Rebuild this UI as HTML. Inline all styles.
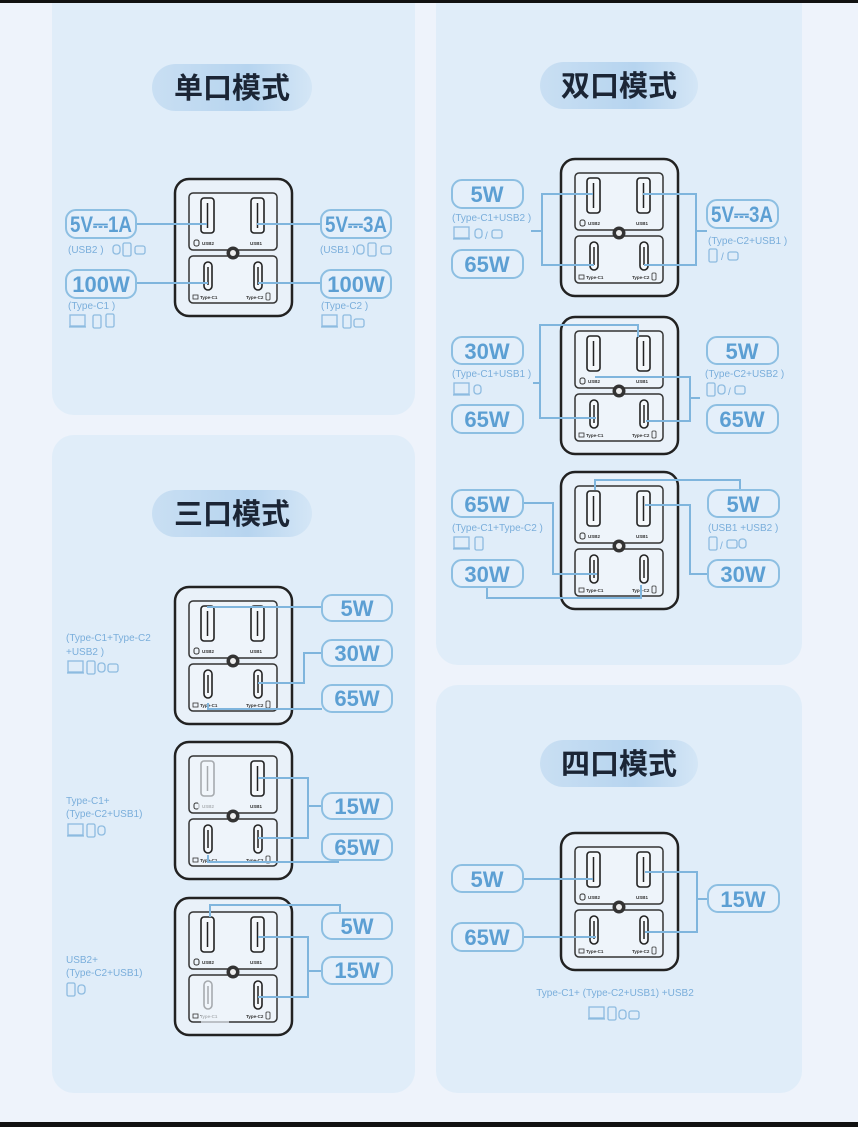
<!DOCTYPE html>
<html><head><meta charset="utf-8"><style>
html,body{margin:0;padding:0;background:#eef3fb;}
svg{display:block}
.lb{fill:#e4effa;stroke:#8dbfe2;stroke-width:2}
.lt{font-family:"Liberation Sans",sans-serif;font-weight:bold;font-size:22px;fill:#5c9fd3;text-anchor:middle}
.st{font-family:"Liberation Sans",sans-serif;font-size:10px;fill:#7aaedb}
.ln{fill:none;stroke:#7fb5dd;stroke-width:2}
.ic{fill:none;stroke:#8dbbe0;stroke-width:1.3}
.tt{font-family:"Liberation Sans","Noto Sans CJK SC",sans-serif;font-weight:bold;font-size:29px;fill:#1b2535;text-anchor:middle}
.pl{font-family:"Liberation Sans",sans-serif;font-size:4.5px;font-weight:bold;fill:#333}
</style></head><body>
<svg width="858" height="1127" viewBox="0 0 858 1127" xmlns="http://www.w3.org/2000/svg">
<defs>
<linearGradient id="tg" x1="0" x2="1" y1="0" y2="0"><stop offset="0" stop-color="#c9dff3"/><stop offset="0.6" stop-color="#b6d4ef"/><stop offset="1" stop-color="#d4e6f6"/></linearGradient>
<symbol id="dev" viewBox="0 0 120 140" width="120" height="140" overflow="visible">
<rect x="1" y="1" width="117" height="137" rx="14" fill="#e9f1f9" stroke="#222" stroke-width="2.5"/>
<rect x="15" y="15" width="88" height="57" rx="4" fill="#eef4fa" stroke="#333" stroke-width="1.5"/>
<rect x="15" y="78" width="88" height="47" rx="4" fill="#eef4fa" stroke="#333" stroke-width="1.5"/>
<rect x="27" y="20" width="13" height="35" rx="3" fill="#f5f8fb" stroke="#222" stroke-width="1.6"/>
<line x1="33.5" y1="25" x2="33.5" y2="50" stroke="#222" stroke-width="1.5"/>
<rect x="77" y="20" width="13" height="35" rx="3" fill="#f5f8fb" stroke="#222" stroke-width="1.6"/>
<line x1="83.5" y1="25" x2="83.5" y2="50" stroke="#222" stroke-width="1.5"/>
<rect x="30" y="84" width="8" height="28" rx="4" fill="#f5f8fb" stroke="#222" stroke-width="1.6"/>
<line x1="34" y1="89" x2="34" y2="107" stroke="#222" stroke-width="1.5"/>
<rect x="80" y="84" width="8" height="28" rx="4" fill="#f5f8fb" stroke="#222" stroke-width="1.6"/>
<line x1="84" y1="89" x2="84" y2="107" stroke="#222" stroke-width="1.5"/>
<circle cx="59" cy="75" r="6.5" fill="#333"/><circle cx="59" cy="75" r="3" fill="#eee"/>
<rect x="20" y="62" width="5" height="6" rx="2" fill="none" stroke="#333"/>
<text x="28" y="67" class="pl">USB2</text><text x="76" y="67" class="pl">USB1</text>
<rect x="19" y="117" width="5" height="4" fill="none" stroke="#333" stroke-width="0.8"/>
<text x="26" y="121" class="pl">Type-C1</text><text x="72" y="121" class="pl">Type-C2</text>
<rect x="92" y="115" width="4" height="7" rx="1" fill="none" stroke="#333" stroke-width="0.8"/>
</symbol>
<g id="lap"><rect x="0" y="0" width="15" height="11" class="ic"/><line x1="-1" y1="12" x2="16" y2="12" class="ic"/></g>
<g id="ph"><rect x="0" y="0" width="8" height="13" rx="1.5" class="ic"/></g>
<g id="wa"><rect x="0" y="2" width="7" height="9" rx="3" class="ic"/></g>
<g id="ep"><rect x="0" y="3" width="10" height="8" rx="2" class="ic"/></g>
</defs>

<rect x="0" y="0" width="858" height="1127" fill="#eef3fb"/>

<!-- panels -->
<rect x="52" y="-20" width="363" height="435" rx="22" fill="#e0edf9"/>
<rect x="52" y="435" width="363" height="658" rx="22" fill="#e0edf9"/>
<rect x="436" y="-20" width="366" height="685" rx="22" fill="#e0edf9"/>
<rect x="436" y="685" width="366" height="408" rx="22" fill="#e0edf9"/>
<rect x="0" y="0" width="858" height="3" fill="#111"/>
<rect x="0" y="1122" width="858" height="5" fill="#111"/>

<!-- titles -->
<rect x="152" y="64" width="160" height="47" rx="23.5" fill="url(#tg)"/><text x="232" y="98" class="tt">单口模式</text>
<rect x="540" y="62" width="158" height="47" rx="23.5" fill="url(#tg)"/><text x="619" y="96" class="tt">双口模式</text>
<rect x="152" y="490" width="160" height="47" rx="23.5" fill="url(#tg)"/><text x="232" y="524" class="tt">三口模式</text>
<rect x="540" y="740" width="158" height="47" rx="23.5" fill="url(#tg)"/><text x="619" y="774" class="tt">四口模式</text>

<!-- devices -->
<use href="#dev" x="174" y="178"/>
<use href="#dev" x="560" y="158"/>
<use href="#dev" x="560" y="316"/>
<use href="#dev" x="560" y="471"/>
<use href="#dev" x="174" y="586"/>
<use href="#dev" x="174" y="741"/>
<use href="#dev" x="174" y="897"/>
<use href="#dev" x="560" y="832"/>
<!-- faded ports -->
<rect x="198" y="759" width="17" height="50" fill="#eef4fa" opacity="0.65"/>
<rect x="201" y="978" width="28" height="45" fill="#eef4fa" opacity="0.65"/>

<!-- ===== P1 ===== -->
<path class="ln" d="M136 224 H207 M136 283 H208 M321 224 H257 M321 283 H258"/>
<rect class="lb" x="66" y="210" width="70" height="28" rx="10"/><text class="lt" x="101" y="232" textLength="62" lengthAdjust="spacingAndGlyphs">5V⎓1A</text>
<rect class="lb" x="66" y="270" width="70" height="28" rx="10"/><text class="lt" x="101" y="292">100W</text>
<rect class="lb" x="321" y="210" width="70" height="28" rx="10"/><text class="lt" x="356" y="232" textLength="62" lengthAdjust="spacingAndGlyphs">5V⎓3A</text>
<rect class="lb" x="321" y="270" width="70" height="28" rx="10"/><text class="lt" x="356" y="292">100W</text>
<text class="st" x="68" y="253">(USB2 )</text><use href="#wa" x="113" y="243"/><use href="#ph" x="123" y="243"/><use href="#ep" x="135" y="243"/>
<text class="st" x="320" y="253">(USB1 )</text><use href="#wa" x="357" y="243"/><use href="#ph" x="368" y="243"/><use href="#ep" x="381" y="243"/>
<text class="st" x="68" y="309">(Type-C1 )</text><use href="#lap" x="70" y="315"/><use href="#ph" x="93" y="315"/><use href="#ph" x="106" y="314"/>
<text class="st" x="321" y="309">(Type-C2 )</text><use href="#lap" x="322" y="315"/><use href="#ph" x="343" y="315"/><use href="#ep" x="354" y="316"/>

<!-- ===== P2a ===== -->
<path class="ln" d="M593 194 H542 V265 H594 M531 231 H542 M643 194 H696 V265 H644 M696 231 H707"/>
<rect class="lb" x="452" y="180" width="71" height="28" rx="10"/><text class="lt" x="487" y="202">5W</text>
<rect class="lb" x="452" y="250" width="71" height="28" rx="10"/><text class="lt" x="487" y="272">65W</text>
<rect class="lb" x="707" y="200" width="71" height="28" rx="10"/><text class="lt" x="742" y="222" textLength="62" lengthAdjust="spacingAndGlyphs">5V⎓3A</text>
<text class="st" x="452" y="221">(Type-C1+USB2 )</text><use href="#lap" x="454" y="227"/><use href="#wa" x="475" y="227"/><text class="st" x="485" y="239">/</text><use href="#ep" x="492" y="227"/>
<text class="st" x="708" y="244">(Type-C2+USB1 )</text><use href="#ph" x="709" y="249"/><text class="st" x="721" y="260">/</text><use href="#ep" x="728" y="249"/>

<!-- ===== P2b ===== -->
<path class="ln" d="M533 383 H540 V325 H638 V337 M540 325 V418 H596 M595 377 H690 V421 H646 M690 398 H700"/>
<rect class="lb" x="452" y="337" width="71" height="27" rx="10"/><text class="lt" x="487" y="359">30W</text>
<rect class="lb" x="452" y="405" width="71" height="28" rx="10"/><text class="lt" x="487" y="427">65W</text>
<rect class="lb" x="707" y="337" width="71" height="27" rx="10"/><text class="lt" x="742" y="359">5W</text>
<rect class="lb" x="707" y="405" width="71" height="28" rx="10"/><text class="lt" x="742" y="427">65W</text>
<text class="st" x="452" y="377">(Type-C1+USB1 )</text><use href="#lap" x="454" y="383"/><use href="#wa" x="474" y="383"/>
<text class="st" x="705" y="377">(Type-C2+USB2 )</text><use href="#ph" x="707" y="383"/><use href="#wa" x="718" y="383"/><text class="st" x="728" y="395">/</text><use href="#ep" x="735" y="383"/>

<!-- ===== P2c ===== -->
<path class="ln" d="M522 503 H553 V574 H597 M487 587 V598 H641 V585 M595 490 V480 H740 V490 M645 505 H690 V574 H708"/>
<rect class="lb" x="452" y="490" width="71" height="27" rx="10"/><text class="lt" x="487" y="512">65W</text>
<rect class="lb" x="452" y="560" width="71" height="27" rx="10"/><text class="lt" x="487" y="582">30W</text>
<rect class="lb" x="708" y="490" width="71" height="27" rx="10"/><text class="lt" x="743" y="512">5W</text>
<rect class="lb" x="708" y="560" width="71" height="27" rx="10"/><text class="lt" x="743" y="582">30W</text>
<text class="st" x="452" y="531">(Type-C1+Type-C2 )</text><use href="#lap" x="454" y="537"/><use href="#ph" x="475" y="537"/>
<text class="st" x="708" y="531">(USB1 +USB2 )</text><use href="#ph" x="709" y="537"/><text class="st" x="720" y="549">/</text><use href="#ep" x="727" y="537"/><use href="#wa" x="739" y="537"/>

<!-- ===== P3a ===== -->
<path class="ln" d="M207 607 H322 M258 683 H304 V653 H322 M208 703 V709 H322"/>
<rect class="lb" x="322" y="595" width="70" height="26" rx="10"/><text class="lt" x="357" y="616">5W</text>
<rect class="lb" x="322" y="640" width="70" height="26" rx="10"/><text class="lt" x="357" y="661">30W</text>
<rect class="lb" x="322" y="685" width="70" height="27" rx="10"/><text class="lt" x="357" y="706">65W</text>
<text class="st" x="66" y="641">(Type-C1+Type-C2</text><text class="st" x="66" y="655">+USB2 )</text>
<use href="#lap" x="68" y="661"/><use href="#ph" x="87" y="661"/><use href="#wa" x="98" y="661"/><use href="#ep" x="108" y="661"/>

<!-- ===== P3b ===== -->
<path class="ln" d="M258 778 H308 V838 H258 M308 806 H322 M208 855 V862 H338 V860"/>
<rect class="lb" x="322" y="793" width="70" height="26" rx="10"/><text class="lt" x="357" y="814">15W</text>
<rect class="lb" x="322" y="834" width="70" height="26" rx="10"/><text class="lt" x="357" y="855">65W</text>
<text class="st" x="66" y="804">Type-C1+</text><text class="st" x="66" y="817">(Type-C2+USB1)</text>
<use href="#lap" x="68" y="824"/><use href="#ph" x="87" y="824"/><use href="#wa" x="98" y="824"/>

<!-- ===== P3c ===== -->
<path class="ln" d="M210 917 V905 H340 V913 M258 937 H308 V997 H258 M308 971 H322"/>
<rect class="lb" x="322" y="913" width="70" height="26" rx="10"/><text class="lt" x="357" y="934">5W</text>
<rect class="lb" x="322" y="957" width="70" height="27" rx="10"/><text class="lt" x="357" y="978">15W</text>
<text class="st" x="66" y="963">USB2+</text><text class="st" x="66" y="976">(Type-C2+USB1)</text>
<use href="#ph" x="67" y="983"/><use href="#wa" x="78" y="983"/>

<!-- ===== P4 ===== -->
<path class="ln" d="M522 879 H593 M522 937 H596 M645 872 H697 V932 H645 M697 899 H708"/>
<rect class="lb" x="452" y="865" width="71" height="27" rx="10"/><text class="lt" x="487" y="887">5W</text>
<rect class="lb" x="452" y="923" width="71" height="28" rx="10"/><text class="lt" x="487" y="945">65W</text>
<rect class="lb" x="708" y="885" width="71" height="27" rx="10"/><text class="lt" x="743" y="907">15W</text>
<text class="st" x="615" y="996" text-anchor="middle">Type-C1+ (Type-C2+USB1) +USB2</text>
<use href="#lap" x="589" y="1007"/><use href="#ph" x="608" y="1007"/><use href="#wa" x="619" y="1008"/><use href="#ep" x="629" y="1008"/>
</svg>
</body></html>
